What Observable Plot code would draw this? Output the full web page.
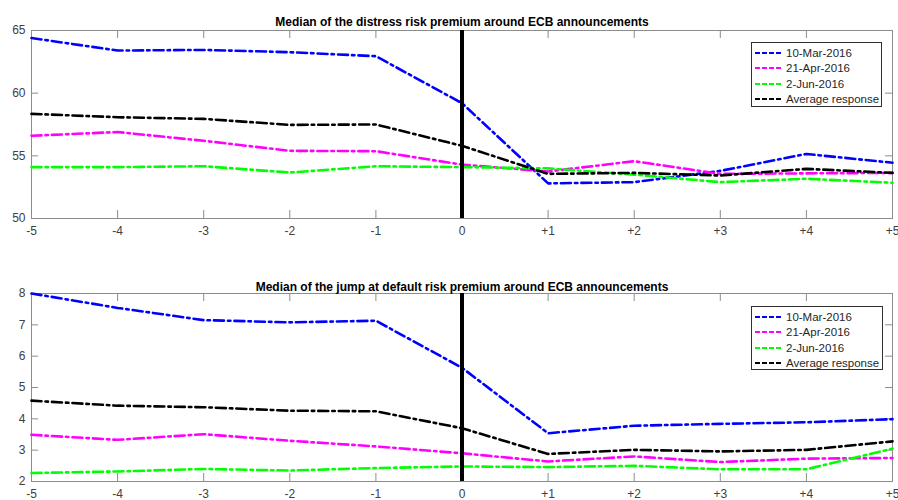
<!DOCTYPE html>
<html>
<head>
<meta charset="utf-8">
<script src="https://cdn.jsdelivr.net/npm/d3@7"></script>
<script src="https://cdn.jsdelivr.net/npm/@observablehq/plot@0.6"></script>
<style>
  body { margin: 0; background: #fff; }
  #chart { position: relative; width: 898px; height: 500px; overflow: hidden; background: #fff; }
  #chart svg { display: block; }
  .legend { position: absolute; background: #fff; border: 1px solid #303030; box-sizing: border-box;
            font-family: "Liberation Sans", Arial, sans-serif; font-size: 11.5px; color: #262626; padding: 2px 0 0 2px; }
  .legend .row { display: flex; align-items: center; white-space: nowrap; }
  .legend svg { display: inline-block; margin-right: 2px; }
</style>
</head>
<body>
<div id="chart"></div>
<script>
// ---- data ----
const offsets = [-5, -4, -3, -2, -1, 0, 1, 2, 3, 4, 5];
const offsetLabels = ["-5", "-4", "-3", "-2", "-1", "0", "+1", "+2", "+3", "+4", "+5"];
const seriesNames = ["10-Mar-2016", "21-Apr-2016", "2-Jun-2016", "Average response"];
const seriesColors = ["#0000ff", "#ff00ff", "#00ff00", "#000000"];

const distressTitle = "Median of the distress risk premium around ECB announcements";
const distressTicks = [50, 55, 60, 65];
const distressMar = [64.4, 63.4, 63.45, 63.27, 62.95, 59.2, 52.8, 52.9, 53.8, 55.15, 54.45];
const distressApr = [56.6, 56.9, 56.2, 55.4, 55.37, 54.3, 53.75, 54.57, 53.56, 53.6, 53.64];
const distressJun = [54.1, 54.1, 54.17, 53.67, 54.17, 54.1, 54.0, 53.5, 52.9, 53.17, 52.85];
const distressAvg = [58.35, 58.08, 57.95, 57.47, 57.5, 55.8, 53.56, 53.64, 53.43, 53.96, 53.64];

const jumpTitle = "Median of the jump at default risk premium around ECB announcements";
const jumpTicks = [2, 3, 4, 5, 6, 7, 8];
const jumpMar = [8.0, 7.54, 7.15, 7.08, 7.13, 5.63, 3.54, 3.78, 3.84, 3.89, 3.99];
const jumpApr = [3.49, 3.33, 3.51, 3.30, 3.12, 2.9, 2.64, 2.80, 2.62, 2.73, 2.75];
const jumpJun = [2.27, 2.32, 2.40, 2.35, 2.43, 2.48, 2.46, 2.50, 2.39, 2.39, 3.05];
const jumpAvg = [4.58, 4.42, 4.37, 4.26, 4.24, 3.7, 2.88, 3.01, 2.96, 3.01, 3.28];

// ---- build ----
const W = 898, H = 250, ML = 31, MR = 6;
const frameColor = "#8c8c8c";
const dash = "10,4,2.5,4";

function toRows(seriesArrays) {
  const rows = [];
  seriesArrays.forEach((arr, s) => arr.forEach((v, i) => rows.push({series: seriesNames[s], x: offsets[i], y: v})));
  return rows;
}

function panel(seriesArrays, yTicks, title, marginTop, marginBottom, titleDy) {
  const ph = H - marginTop - marginBottom;
  const pw = W - ML - MR;
  const rows = toRows(seriesArrays);
  return Plot.plot({
    width: W, height: H,
    marginLeft: ML, marginRight: MR, marginTop, marginBottom,
    style: {fontFamily: "'Liberation Sans', Arial, sans-serif", fontSize: "12px", color: "#404040", background: "#fff", overflow: "visible"},
    x: {domain: [-5, 5], label: null},
    y: {domain: [yTicks[0], yTicks[yTicks.length - 1]], label: null},
    color: {domain: seriesNames, range: seriesColors},
    marks: [
      Plot.tickX(offsets, {x: d => d, stroke: frameColor, insetTop: ph - 8}),
      Plot.tickX(offsets, {x: d => d, stroke: frameColor, insetBottom: ph - 8}),
      Plot.tickY(yTicks, {y: d => d, stroke: frameColor, insetRight: pw - 7}),
      Plot.tickY(yTicks, {y: d => d, stroke: frameColor, insetLeft: pw - 7}),
      Plot.frame({stroke: frameColor}),
      Plot.line(rows, {x: "x", y: "y", z: "series", stroke: "series", strokeWidth: 2.6, strokeDasharray: dash, strokeLinejoin: "miter"}),
      Plot.ruleX([0], {stroke: "#000", strokeWidth: 4}),
      Plot.axisX({ticks: offsets, tickFormat: d => offsetLabels[offsets.indexOf(d)], tickSize: 0, tickPadding: 8, fill: "#404040", label: null}),
      Plot.axisY({ticks: yTicks, tickFormat: d => String(d), tickSize: 0, tickPadding: 6, fill: "#404040", label: null}),
      Plot.text([title], {text: d => d, frameAnchor: "top", dy: titleDy, fontWeight: "bold", fill: "#000", fontSize: 12})
    ]
  });
}

const chart = document.getElementById("chart");
chart.appendChild(panel([distressMar, distressApr, distressJun, distressAvg], distressTicks, distressTitle, 30, 32, -13));
chart.appendChild(panel([jumpMar, jumpApr, jumpJun, jumpAvg], jumpTicks, jumpTitle, 43, 19, -11));

function legend(left, top, width, height) {
  const div = document.createElement("div");
  div.className = "legend";
  Object.assign(div.style, {left: left + "px", top: top + "px", width: width + "px", height: height + "px"});
  seriesNames.forEach((name, i) => {
    const row = document.createElement("div");
    row.className = "row";
    row.style.height = "15.5px";
    row.innerHTML = `<svg width="30" height="6"><line x1="1" x2="29" y1="3" y2="3" stroke="${seriesColors[i]}" stroke-width="2.2" stroke-dasharray="5,2"></line></svg><span>${name}</span>`;
    div.appendChild(row);
  });
  chart.appendChild(div);
}
legend(751, 42, 131, 65);
legend(751, 306, 132, 64);
</script>
</body>
</html>
